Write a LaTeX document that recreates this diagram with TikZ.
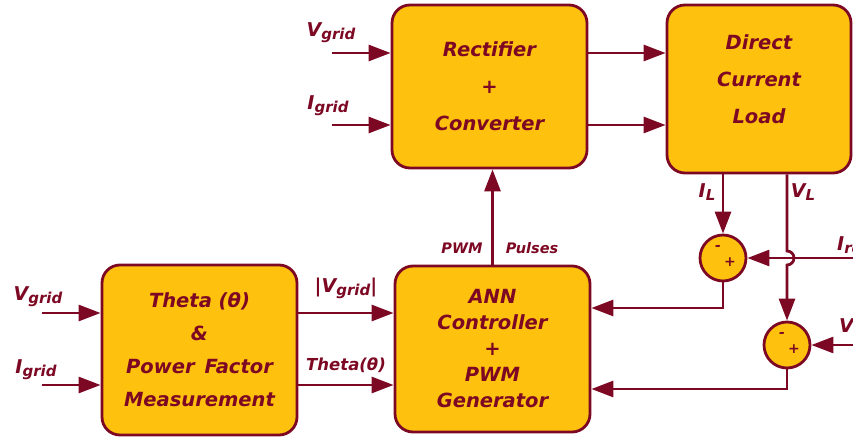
\documentclass[tikz,border=0pt]{standalone}
\usepackage{fontspec}
\setmainfont{DejaVu Sans}
\usetikzlibrary{arrows.meta}
\definecolor{wine}{RGB}{125,8,35}
\definecolor{amber}{RGB}{254,194,14}
\newcommand{\sg}[2]{#1\raisebox{-0.3ex}{\fontsize{15}{15}\selectfont #2}}

\begin{document}
\begin{tikzpicture}[x=1pt,y=-1pt,
	block/.style={draw=wine,fill=amber,line width=2.8pt,rounded corners=18pt,align=center,text=wine,minimum width=195pt},
	sum/.style={circle,draw=wine,fill=amber,line width=2.8pt,minimum size=46pt,inner sep=0pt},
	sig/.style={draw=wine,line width=2.8pt,-{Triangle[length=22pt,width=16pt]}},
	lbl/.style={text=wine,font=\bfseries\itshape\fontsize{19}{20}\selectfont,inner sep=0pt},
	sgn/.style={text=wine,font=\bfseries\itshape\fontsize{14}{14}\selectfont,inner sep=0pt}]
	\useasboundingbox (0,0) rectangle (853,441);
	% blocks
	\node[block,minimum height=163pt,font=\bfseries\itshape\fontsize{19.5}{37}\selectfont] (rect) at (489.5,86.5) {Rectifier\\+\\Converter};
	\node[block,minimum width=184pt,minimum height=168pt,text depth=19pt,font=\bfseries\itshape\fontsize{19.5}{37}\selectfont] (load) at (759,89) {Direct\\Current\\Load};
	\node[block,minimum height=170pt,font=\bfseries\itshape\fontsize{19.5}{33}\selectfont] (theta) at (199.5,350) {Theta (θ)\\\&\\Power\, Factor\\Measurement};
	\node[block,minimum height=166pt,font=\bfseries\itshape\fontsize{19.5}{26}\selectfont] (ann) at (492.5,349) {ANN\\Controller\\+\\PWM\\Generator};
	\node[sum] (sum1) at (723,258) {};
	\node[sum] (sum2) at (787,345) {};
	\node[sgn] at ([xshift=-5pt,yshift=10pt]sum1.center) {-};
	\node[sgn] at ([xshift=7pt,yshift=-4pt]sum1.center) {+};
	\node[sgn] at ([xshift=-5pt,yshift=10pt]sum2.center) {-};
	\node[sgn] at ([xshift=7pt,yshift=-4pt]sum2.center) {+};
	% free ends
	\coordinate (vin1) at (332,53);
	\coordinate (iin1) at (332,125);
	\coordinate (vin2) at (42,313);
	\coordinate (iin2) at (42,385);
	\coordinate (iref) at (853,258);
	\coordinate (vref) at (853,345);
	% connectors
	\draw[sig] (vin1) -- (vin1 -| rect.west);
	\draw[sig] (iin1) -- (iin1 -| rect.west);
	\draw[sig] (rect.east |- vin1) -- (load.west |- vin1);
	\draw[sig] (rect.east |- iin1) -- (load.west |- iin1);
	\draw[sig] (vin2) -- (vin2 -| theta.west);
	\draw[sig] (iin2) -- (iin2 -| theta.west);
	\draw[sig] (theta.east |- vin2) -- (ann.west |- vin2);
	\draw[sig] (theta.east |- iin2) -- (ann.west |- iin2);
	\draw[sig] (ann.north) -- (ann.north |- rect.south);
	\draw[sig] (sum1 |- load.south) -- (sum1.north);
	\draw[sig] (sum2 |- load.south) -- ([yshift=7pt]sum2 |- iref) arc[start angle=90,end angle=-90,radius=7pt] -- (sum2.north);
	\draw[sig] (iref) -- (sum1.east);
	\draw[sig] (vref) -- (sum2.east);
	\draw[sig] (sum1.south) |- ([yshift=41pt]ann.east);
	\draw[sig] (sum2.south) |- ([yshift=-40pt]ann.east);
	% labels
	\node[lbl] (lv1) at (331,33) {\sg{V}{grid}};
	\node[lbl] (li1) at (328,106) {\sg{I}{grid}};
	\node[lbl] (lv2) at (38,297) {\sg{V}{grid}};
	\node[lbl] (li2) at (36,370) {\sg{I}{grid}};
	\node[lbl] (lmag) at (346,288) {|\sg{V}{grid}|};
	\node[lbl,font=\bfseries\itshape\fontsize{16.5}{20}\selectfont] (lth) at (346,365) {Theta(θ)};
	\node[lbl,font=\bfseries\itshape\fontsize{14.5}{15}\selectfont] (lpwm) at (462,248) {PWM};
	\node[lbl,font=\bfseries\itshape\fontsize{14.5}{15}\selectfont] (lpul) at (532,248) {Pulses};
	\node[lbl] (lil) at (707,192) {\sg{I}{L}};
	\node[lbl] (lvl) at (803,192) {\sg{V}{L}};
	\node[lbl,anchor=west] (lir) at (837,245) {\sg{I}{ref}};
	\node[lbl,anchor=west] (lvr) at (839,327) {\sg{V}{ref}};
\end{tikzpicture}
\end{document}
